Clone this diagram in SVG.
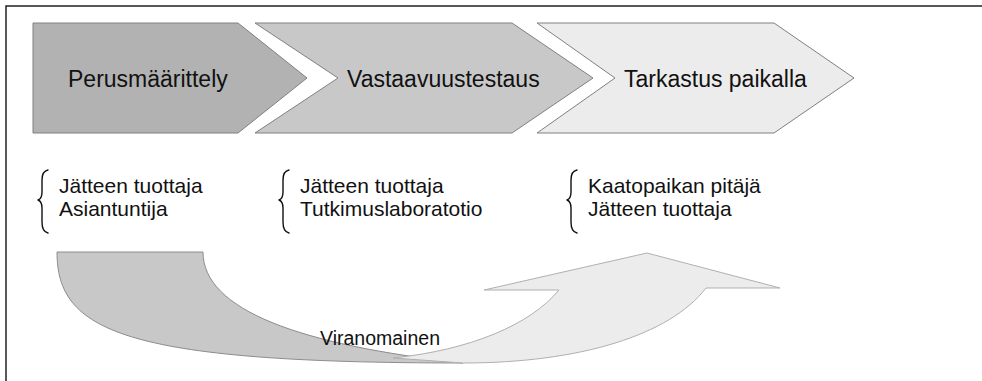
<svg xmlns="http://www.w3.org/2000/svg" width="982" height="381" viewBox="0 0 982 381">
<style>
.bg{fill:#ffffff}
.frame{stroke:#222222;stroke-width:1.5;fill:none}
.chev{stroke:#808080;stroke-width:1}
.c1{fill:#b2b2b2}
.c2{fill:#c8c8c9}
.c3{fill:#ececec}
.head{font-family:"Liberation Sans",Arial,sans-serif;font-size:23px;fill:#111111}
.item{font-family:"Liberation Sans",Arial,sans-serif;font-size:21px;fill:#111111}
.brace{fill:none;stroke:#111111;stroke-width:1.4;stroke-linecap:round;stroke-linejoin:round}
.band{fill:#c8c8c9;stroke:#8c8c8c;stroke-width:1}
.arrow{fill:#ececec;stroke:#b0b0b0;stroke-width:1}
.lbl{font-family:"Liberation Sans",Arial,sans-serif;font-size:19.5px;fill:#111111}
</style>
<defs>
<path id="bracePath" d="M0,0 C-5,1 -6,5 -6,10 L-6,22 C-6,27 -7,29 -10,30 C-7,31 -6,33 -6,38 L-6,52 C-6,58 -5,62 0,63"/>
</defs>
<rect class="bg" x="0" y="0" width="982" height="381"/>
<path class="frame" d="M6,381 L6,6 L982,6"/>

<g id="step-perusmaarittely">
<polygon class="chev c1" points="33,23 238,23 307,78 238,133 33,133"/>
<text class="head" x="68" y="87">Perusmäärittely</text>
</g>
<g id="step-vastaavuustestaus">
<polygon class="chev c2" points="255,23 512,23 593,78 512,133 255,133 338,78"/>
<text class="head" x="347" y="87">Vastaavuustestaus</text>
</g>
<g id="step-tarkastus">
<polygon class="chev c3" points="537,23 774,23 854,78 774,133 537,133 615,78"/>
<text class="head" x="624" y="87">Tarkastus paikalla</text>
</g>

<g id="list-perusmaarittely">
<use href="#bracePath" class="brace" x="48" y="170"/>
<text class="item" x="59" y="193">Jätteen tuottaja</text>
<text class="item" x="59" y="216">Asiantuntija</text>
</g>
<g id="list-vastaavuustestaus">
<use href="#bracePath" class="brace" x="289" y="170"/>
<text class="item" x="300" y="193">Jätteen tuottaja</text>
<text class="item" x="300" y="216">Tutkimuslaboratotio</text>
</g>
<g id="list-tarkastus">
<use href="#bracePath" class="brace" x="577" y="170"/>
<text class="item" x="588" y="193">Kaatopaikan pitäjä</text>
<text class="item" x="588" y="216">Jätteen tuottaja</text>
</g>

<g id="connectors">
<path class="band" d="M57,252 L203,252 C203,310 300,345 463,363 C120,363 57,330 57,252 Z"/>
<path class="arrow" d="M393,358 C470,350 530,325 559,290 L484,290 L647,253 L780,288 L706,288 C670,335 580,363 463,363 Z"/>
<text class="lbl" x="320" y="345">Viranomainen</text>
</g>
</svg>
